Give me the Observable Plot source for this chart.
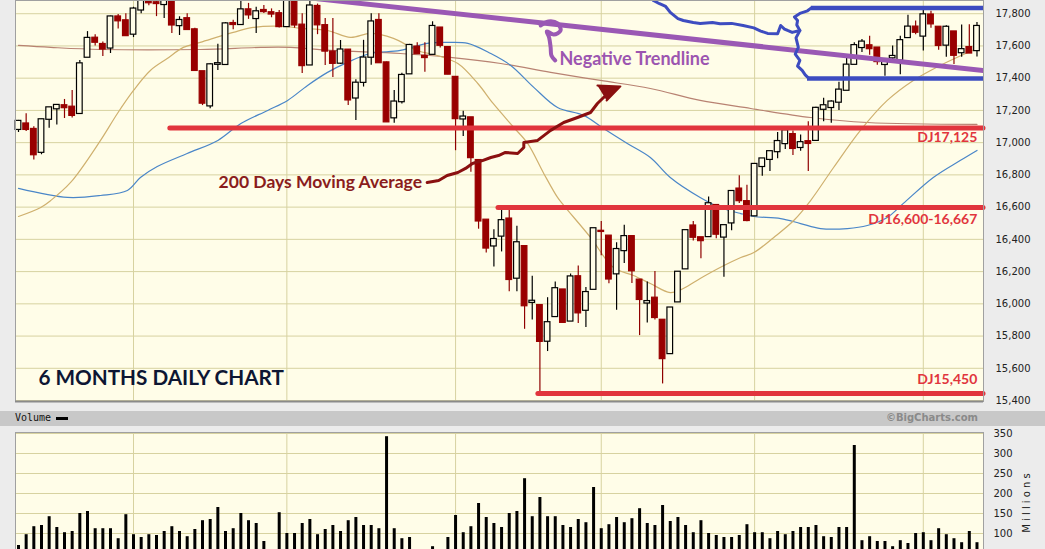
<!DOCTYPE html>
<html>
<head>
<meta charset="utf-8">
<script src="https://cdn.jsdelivr.net/npm/d3@7"></script>
<script src="https://cdn.jsdelivr.net/npm/@observablehq/plot@0.6"></script>
<style>
  html, body { margin: 0; padding: 0; background: #ececec; }
  #wrap { position: relative; width: 1045px; height: 549px; overflow: hidden; background: #ececec; }
  #main, #vol { position: absolute; left: 0; }
  #main { top: 0; }
  #vol { top: 432px; }
  #hdr { position: absolute; left: 0; top: 411px; width: 1045px; height: 15px; background: #c8c8c8; }
  #hdr .vl { position: absolute; left: 15px; top: 1px; font: 10px "DejaVu Sans Mono", monospace; color: #111; }
  #hdr .sw { position: absolute; left: 56px; top: 6px; width: 12px; height: 3px; background: #000; }
  #hdr .bc { position: absolute; right: 67px; top: 1px; font: bold 10px "DejaVu Sans", sans-serif; color: #8a8a8a; }
</style>
</head>
<body>
<div id="wrap">
  <div id="main"></div>
  <div id="hdr"><span class="vl">Volume</span><span class="sw"></span><span class="bc">©BigCharts.com</span></div>
  <div id="vol"></div>
</div>
<script>
// ---- Data (Dow Jones daily, Oct 12 2015 - Apr 12 2016) ----
const dates = [
"2015-10-12","2015-10-13","2015-10-14","2015-10-15","2015-10-16","2015-10-19","2015-10-20","2015-10-21","2015-10-22","2015-10-23",
"2015-10-26","2015-10-27","2015-10-28","2015-10-29","2015-10-30","2015-11-02","2015-11-03","2015-11-04","2015-11-05","2015-11-06",
"2015-11-09","2015-11-10","2015-11-11","2015-11-12","2015-11-13","2015-11-16","2015-11-17","2015-11-18","2015-11-19","2015-11-20",
"2015-11-23","2015-11-24","2015-11-25","2015-11-27","2015-11-30","2015-12-01","2015-12-02","2015-12-03","2015-12-04","2015-12-07",
"2015-12-08","2015-12-09","2015-12-10","2015-12-11","2015-12-14","2015-12-15","2015-12-16","2015-12-17","2015-12-18","2015-12-21",
"2015-12-22","2015-12-23","2015-12-24","2015-12-28","2015-12-29","2015-12-30","2015-12-31","2016-01-04","2016-01-05","2016-01-06",
"2016-01-07","2016-01-08","2016-01-11","2016-01-12","2016-01-13","2016-01-14","2016-01-15","2016-01-19","2016-01-20","2016-01-21",
"2016-01-22","2016-01-25","2016-01-26","2016-01-27","2016-01-28","2016-01-29","2016-02-01","2016-02-02","2016-02-03","2016-02-04",
"2016-02-05","2016-02-08","2016-02-09","2016-02-10","2016-02-11","2016-02-12","2016-02-16","2016-02-17","2016-02-18","2016-02-19",
"2016-02-22","2016-02-23","2016-02-24","2016-02-25","2016-02-26","2016-02-29","2016-03-01","2016-03-02","2016-03-03","2016-03-04",
"2016-03-07","2016-03-08","2016-03-09","2016-03-10","2016-03-11","2016-03-14","2016-03-15","2016-03-16","2016-03-17","2016-03-18",
"2016-03-21","2016-03-22","2016-03-23","2016-03-24","2016-03-28","2016-03-29","2016-03-30","2016-03-31","2016-04-01","2016-04-04",
"2016-04-05","2016-04-06","2016-04-07","2016-04-08","2016-04-11","2016-04-12"];

const openP = [
17082,17116,17082,16940,17145,17210,17229,17220,17181,17530,
17648,17609,17587,17780,17756,17673,17823,17920,17868,17857,
17900,17726,17769,17700,17440,17228,17486,17485,17739,17733,
17824,17770,17820,17806,17800,17720,17884,17729,17482,17845,
17726,17562,17493,17574,17277,17374,17530,17758,17495,17154,
17254,17427,17593,17536,17548,17711,17590,17405,17147,17154,
16889,16519,16359,16420,16526,16159,16355,16009,15989,15768,
15921,16086,15893,16168,15960,16090,16450,16420,16186,16330,
16417,16147,16005,16035,15898,15691,16012,16217,16483,16410,
16417,16610,16414,16502,16712,16634,16546,16852,16896,16944,
16994,17050,16970,17006,17014,17207,17218,17251,17325,17486,
17590,17601,17587,17485,17526,17512,17652,17717,17661,17792,
17716,17605,17687,17558,17590,17571];

const highP = [
17138,17180,17098,17145,17216,17235,17268,17324,17510,17689,
17670,17625,17785,17795,17800,17840,17977,17960,17920,17912,
17905,17781,17800,17710,17440,17490,17610,17745,17760,17880,
17864,17840,17851,17830,17820,17895,17900,17800,17890,17860,
17771,17771,17634,17578,17390,17635,17800,17800,17500,17324,
17430,17610,17620,17620,17750,17714,17590,17405,17195,17154,
16889,16520,16460,16591,16593,16482,16355,16171,15989,16038,
16136,16086,16185,16235,16102,16466,16511,16420,16379,16487,
16417,16147,16136,16201,15898,15974,16196,16455,16511,16410,
16663,16610,16485,16697,16795,16735,16865,16900,16944,17063,
17099,17072,17048,17130,17220,17275,17260,17375,17530,17620,
17640,17660,17587,17521,17599,17660,17790,17755,17820,17815,
17716,17725,17690,17730,17731,17745];

const lowP = [
17063,17069,16892,16925,17090,17110,17150,17153,17181,17530,
17600,17534,17553,17705,17660,17652,17800,17850,17782,17771,
17678,17665,17700,17447,17230,17210,17448,17485,17700,17733,
17765,17678,17802,17775,17712,17720,17710,17429,17482,17670,
17479,17404,17485,17231,17138,17345,17480,17494,17128,17120,
17240,17427,17550,17437,17548,17588,17421,16950,17038,16817,
16463,16315,16228,16322,16075,16075,15842,15900,15451,15704,
15921,15880,15893,15878,15853,16090,16298,16125,15960,16250,
16126,15803,15881,15900,15503,15691,16012,16217,16390,16280,
16417,16404,16165,16453,16623,16510,16546,16792,16821,16900,
16958,16921,16947,16821,17014,17130,17120,17200,17325,17486,
17560,17542,17480,17412,17505,17421,17652,17670,17568,17710,
17574,17530,17485,17530,17555,17531];

const closeP = [
17132,17082,16925,17142,17216,17231,17217,17169,17489,17647,
17623,17581,17780,17756,17664,17829,17918,17868,17863,17910,
17730,17758,17702,17448,17245,17483,17490,17737,17733,17824,
17793,17812,17813,17798,17720,17888,17730,17478,17848,17731,
17568,17492,17575,17265,17369,17525,17749,17496,17129,17252,
17417,17603,17552,17528,17721,17604,17425,17149,17159,16907,
16514,16346,16399,16516,16151,16379,15988,16016,15767,15883,
16094,15885,16167,15944,16070,16466,16449,16154,16337,16417,
16205,16027,16014,15915,15660,15974,16196,16454,16413,16392,
16621,16432,16485,16697,16640,16517,16865,16899,16944,17007,
17074,16964,17000,16995,17213,17229,17252,17326,17481,17602,
17624,17583,17503,17516,17535,17633,17717,17685,17793,17737,
17603,17716,17542,17577,17556,17721];

// Volume, millions
const volume = [
70,97,117,120,142,115,102,105,150,155,
112,112,112,87,147,97,90,97,95,105,
117,105,92,110,132,135,165,105,112,150,
132,125,80,45,152,100,100,125,135,97,
110,120,105,132,140,120,120,112,342,112,
87,90,40,50,67,55,90,145,102,117,
175,140,125,115,150,155,237,142,190,142,
142,120,115,135,127,215,112,122,140,127,
137,162,125,120,170,130,140,120,102,132,
100,95,90,90,95,122,102,102,87,105,
97,105,115,115,120,92,90,115,115,320,
82,92,80,80,67,82,75,100,102,82,
112,97,87,77,105,77];

const monthStarts = ["2015-11-02","2015-12-01","2016-01-04","2016-02-01","2016-03-01","2016-04-01"];
const priceTicks = [15400,15600,15800,16000,16200,16400,16600,16800,17000,17200,17400,17600,17800];
const volTicks = [100,150,200,250,300,350];

// Moving averages: [trading-day index, value]
const ma20 = [[0,16542],[2.9,16598],[4.2,16641],[6.8,16753],[10.7,17014],[12.9,17181],[15,17324],[17.2,17448],[19.4,17522],[21.5,17591],[23.7,17622],[28,17684],[30.6,17715],[34.6,17721],[36.8,17709],[40.3,17696],[43.3,17653],[45.9,17678],[48.9,17647],[52,17572],[54.6,17541],[57.3,17491],[59.9,17367],[61.9,17243],[64.6,17094],[66.4,16995],[68.5,16809],[70.3,16660],[71.1,16611],[74.6,16412],[77.6,16225],[80.2,16176],[82.4,16126],[85,16070],[86.7,16095],[88.9,16157],[91.5,16225],[94.2,16287],[95.9,16318],[98.5,16412],[101.1,16517],[103.3,16641],[106.3,16846],[109.8,17076],[113.3,17262],[116.7,17386],[120.2,17479],[125,17584]];
const ma50 = [[0,16716],[6.4,16660],[10.7,16672],[14.2,16703],[15.9,16784],[18.1,16852],[22,16933],[26,17014],[29,17119],[32.5,17200],[35.1,17262],[37.7,17355],[40.3,17436],[42.9,17498],[45.9,17553],[49.8,17572],[53.3,17616],[55.9,17622],[58.6,17616],[61.6,17553],[64.2,17479],[67.2,17343],[70.3,17218],[73.7,17169],[76.3,17088],[79.4,16995],[82.4,16908],[85,16784],[88.9,16660],[91.5,16598],[94.2,16560],[95.9,16542],[99.4,16529],[102,16498],[104.6,16467],[108.1,16467],[110.7,16486],[113.3,16536],[115.4,16623],[119.3,16784],[122.8,16889],[125,16952]];
const ma200 = [[0,17603],[4.2,17591],[10.7,17578],[23.7,17578],[31.6,17591],[35.5,17591],[40.7,17572],[49.8,17553],[56.3,17529],[62.9,17491],[69.4,17436],[75.9,17386],[82.4,17336],[88.9,17262],[95.5,17212],[103.3,17156],[110.7,17125],[125,17113]];

// Hand-drawn annotations (trading-day index, price)
const redLevels = [17091, 16598, 15443];
const redStart = [19.8, 62.6, 67.8];
const redLabels = ["DJ17,125", "DJ16,600-16,667", "DJ15,450"];
const redLabelPrice = [17032, 16523, 15530];
const blueLevels = [17836, 17398];
const blueStart = [103.4, 102.9];
const blueSquiggle = [[82.8,17882],[83.6,17862],[84.4,17845],[85.0,17808],[86.0,17770],[86.7,17758],[88.0,17745],[88.9,17740],[90.5,17746],[91.5,17738],[93.0,17740],[94.5,17727],[95.9,17712],[96.8,17692],[97.7,17678],[99.0,17676],[99.4,17727],[99.9,17705],[100.3,17696],[100.9,17684],[101.9,17696],[101.5,17730],[101.6,17758],[101.2,17780],[101.9,17802],[102.9,17818],[103.4,17836]];
const blueSquiggle2 = [[101.9,17696],[101.4,17650],[101.7,17591],[101.3,17550],[101.9,17510],[101.6,17475],[102.2,17448],[102.6,17420],[103.0,17402]];
const trendline = [[39.0,17892],[125.85,17448]];
const purpleSquiggle = [[68.1,17727],[69.1,17752],[70.3,17740],[70.7,17696],[69.8,17671],[68.9,17690],[69.2,17653],[69.4,17591],[69.5,17541],[70.0,17510]];
const maArrow = [[53.3,16753],[54.8,16765],[55.9,16796],[57.3,16815],[58.3,16840],[59.2,16871],[60.5,16889],[61.6,16908],[62.6,16920],[63.5,16939],[65.1,16933],[65.9,16970],[65.9,17001],[67.7,17014],[69.4,17076],[71.1,17125],[72.9,17156],[74.6,17187],[75.5,17243],[76.3,17280],[77.2,17311]];
const maArrowHead = [[75.5,17355],[78.5,17349],[76.7,17262]];
const notes = [
  {text: "Negative Trendline", i: 70.55, p: 17516, color: "#9c55b0", size: 18},
  {text: "200 Days Moving Average", i: 26.1, p: 16753, color: "#8a1c1c", size: 17.5},
  {text: "6 MONTHS DAILY CHART", i: 2.6, p: 15537, color: "#0d1633", size: 20.7}
];

// ---- Build ----
const candles = dates.map((d, i) => ({i, date: d, open: openP[i], high: highP[i], low: lowP[i], close: closeP[i], volume: volume[i]}));
const monthIdx = monthStarts.map(m => dates.indexOf(m));
const up = d => d.close >= d.open;
const xDomain = [-0.39, 125.85];
const BG = "#fffde8", GRID = "#d7d2a0", RED = "#990000", ANN_RED = "#e1353d", ANN_BLUE = "#3d4cc0", PURPLE = "#9a58b4";
const xEnd = xDomain[1];

const main = Plot.plot({
  width: 1045, height: 402,
  marginLeft: 15, marginRight: 62, marginTop: 0, marginBottom: 1,
  x: {domain: xDomain, axis: null},
  y: {domain: [15394, 17882], axis: null},
  style: {background: "transparent", overflow: "visible", fontFamily: "DejaVu Sans"},
  marks: [
    Plot.frame({fill: BG}),
    Plot.gridY(priceTicks, {stroke: GRID, strokeOpacity: 1}),
    Plot.ruleX(monthIdx, {stroke: GRID, strokeOpacity: 1}),
    Plot.line(ma200, {x: d => d[0], y: d => d[1], stroke: "#b88272", strokeWidth: 1.2, curve: "catmull-rom"}),
    Plot.line(ma50, {x: d => d[0], y: d => d[1], stroke: "#4a86c8", strokeWidth: 1.2, curve: "catmull-rom"}),
    Plot.line(ma20, {x: d => d[0], y: d => d[1], stroke: "#cfb06e", strokeWidth: 1.2, curve: "catmull-rom"}),
    Plot.ruleX(candles, {x: "i", y1: "low", y2: "high", stroke: d => up(d) ? "#000000" : "#8f0000", strokeWidth: 1.2}),
    Plot.rect(candles, {x1: d => d.i - 0.37, x2: d => d.i + 0.37, y1: "open", y2: "close",
      fill: d => up(d) ? BG : RED, stroke: d => up(d) ? "#000000" : RED, strokeWidth: 1.2, insetTop: -0.5, insetBottom: -0.5}),
    // annotations
    Plot.ruleY(redLevels, {y: d => d, x1: (d, k) => redStart[k], x2: () => xEnd, stroke: ANN_RED, strokeWidth: 5, strokeLinecap: "round"}),
    Plot.text(redLabels, {x: () => 125.05, y: (d, k) => redLabelPrice[k], text: d => d, textAnchor: "end",
      fill: ANN_RED, fontSize: 14, fontWeight: "bold", fontFamily: "Lato"}),
    Plot.line(trendline, {x: d => d[0], y: d => d[1], stroke: PURPLE, strokeWidth: 5, clip: true}),
    Plot.line(purpleSquiggle, {x: d => d[0], y: d => d[1], stroke: PURPLE, strokeWidth: 4, curve: "catmull-rom", strokeLinecap: "round", strokeLinejoin: "round"}),
    Plot.ruleY(blueLevels, {y: d => d, x1: (d, k) => blueStart[k], x2: () => xEnd, stroke: ANN_BLUE, strokeWidth: 4.5}),
    Plot.line(blueSquiggle, {x: d => d[0], y: d => d[1], stroke: ANN_BLUE, strokeWidth: 3, strokeLinejoin: "round", strokeLinecap: "round", clip: true}),
    Plot.line(blueSquiggle2, {x: d => d[0], y: d => d[1], stroke: ANN_BLUE, strokeWidth: 3, strokeLinejoin: "round", strokeLinecap: "round"}),
    Plot.line(maArrow, {x: d => d[0], y: d => d[1], stroke: "#8a1010", strokeWidth: 3, strokeLinejoin: "round"}),
    Plot.line(maArrowHead, {x: d => d[0], y: d => d[1], stroke: "#8a1010", fill: "#8a1010", strokeWidth: 2}),
    Plot.text(notes, {x: "i", y: "p", text: "text", fill: d => d.color, fontSize: d => d.size, textAnchor: "start",
      fontWeight: "bold", fontFamily: "Lato"}),
    Plot.axisY(priceTicks, {anchor: "right", tickSize: 0, tickPadding: 12, tickFormat: d3.format(","), fontSize: 10, fill: "#222", label: null}),
    Plot.frame({stroke: "#a0a0a0"}),
    Plot.ruleY([15394], {stroke: "#8a8a8a", strokeWidth: 2})
  ]
});
document.getElementById("main").appendChild(main);

const vol = Plot.plot({
  width: 1045, height: 141,
  marginLeft: 15, marginRight: 62, marginTop: 0, marginBottom: 0,
  x: {domain: xDomain, axis: null},
  y: {domain: [0, 352.5], axis: null},
  style: {background: "transparent", overflow: "visible", fontFamily: "DejaVu Sans"},
  marks: [
    Plot.frame({fill: BG}),
    Plot.gridY(volTicks, {stroke: GRID, strokeOpacity: 1}),
    Plot.ruleX(monthIdx, {stroke: GRID, strokeOpacity: 1}),
    Plot.ruleX(candles, {x: "i", y1: () => 0, y2: "volume", stroke: "#000", strokeWidth: 3}),
    Plot.axisY(volTicks, {anchor: "right", tickSize: 0, tickPadding: 10, fontSize: 10, fill: "#222",
      label: "M i l l i o n s", labelArrow: false, labelAnchor: "center", labelOffset: 46}),
    Plot.frame({stroke: "#a0a0a0"})
  ]
});
document.getElementById("vol").appendChild(vol);
</script>
</body>
</html>
